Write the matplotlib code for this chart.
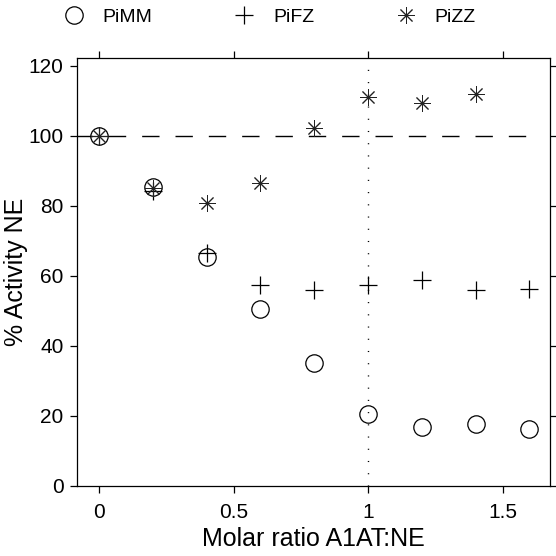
import matplotlib
matplotlib.use("Agg")
import matplotlib.pyplot as plt

plt.rcParams['font.family'] = ['Liberation Sans', 'DejaVu Sans']

ratio = [0, 0.2, 0.4, 0.6, 0.8, 1.0, 1.2, 1.4, 1.6]
pimm = [100, 85.5, 65.4, 50.5, 35.0, 20.6, 16.7, 17.6, 16.4]
pifz = [100, 84.2, 66.6, 57.5, 56.0, 57.4, 58.8, 56.0, 56.2]
ratio_zz = [0, 0.2, 0.4, 0.6, 0.8, 1.0, 1.2, 1.4]
pizz = [100, 85.2, 80.8, 86.5, 102.4, 111.2, 109.5, 112.0]
xticks = [0, 0.5, 1, 1.5]
xticklabels = ['0', '0.5', '1', '1.5']
yticks = [0, 20, 40, 60, 80, 100, 120]

fig = plt.figure(figsize=(5.56, 5.56), dpi=100)
ax = fig.add_axes([0.139, 0.126, 0.851, 0.7705])

ax.plot([-0.09, 1.6], [100, 100], color='black', lw=1.0, dashes=(12.5, 11.5), zorder=1)
ax.axvline(1.0, color='black', lw=1.0, linestyle=(0, (0.8, 8.0)), zorder=1)

ax.plot(ratio, pimm, linestyle='none', marker='o', markersize=12.5, markerfacecolor='none',
        markeredgecolor='black', markeredgewidth=0.9, label='PiMM')
ax.plot(ratio, pifz, linestyle='none', marker='+', markersize=13, markeredgecolor='black',
        markeredgewidth=0.9, label='PiFZ')
ax.plot(ratio_zz, pizz, linestyle='none', marker=(8, 2, 0), markersize=12, markeredgecolor='#222222',
        markeredgewidth=0.7, label='PiZZ')

ax.set_xlim(-0.081, 1.678)
ax.set_ylim(0, 122.4)
ax.set_xticks(xticks)
ax.set_xticklabels(xticklabels)
ax.set_yticks(yticks)
ax.tick_params(direction='out', length=5, width=0.9, labelsize=15, colors='black',
               top=True, right=True, labeltop=False, labelright=False, pad=5)
ax.tick_params(axis='x', pad=7)
for s in ax.spines.values():
    s.set_linewidth(0.9)

ax.set_xlabel('Molar ratio A1AT:NE', fontsize=18, labelpad=4)
ax.set_ylabel('% Activity NE', fontsize=18)
ax.yaxis.set_label_coords(-0.105, 0.5)

leg = ax.legend(loc='lower center', bbox_to_anchor=(0.405, 1.055), ncol=3, frameon=False,
                fontsize=14, columnspacing=4.1, handlelength=1.2, handletextpad=0.9,
                borderaxespad=0)

fig.savefig('out.png', dpi=100)
